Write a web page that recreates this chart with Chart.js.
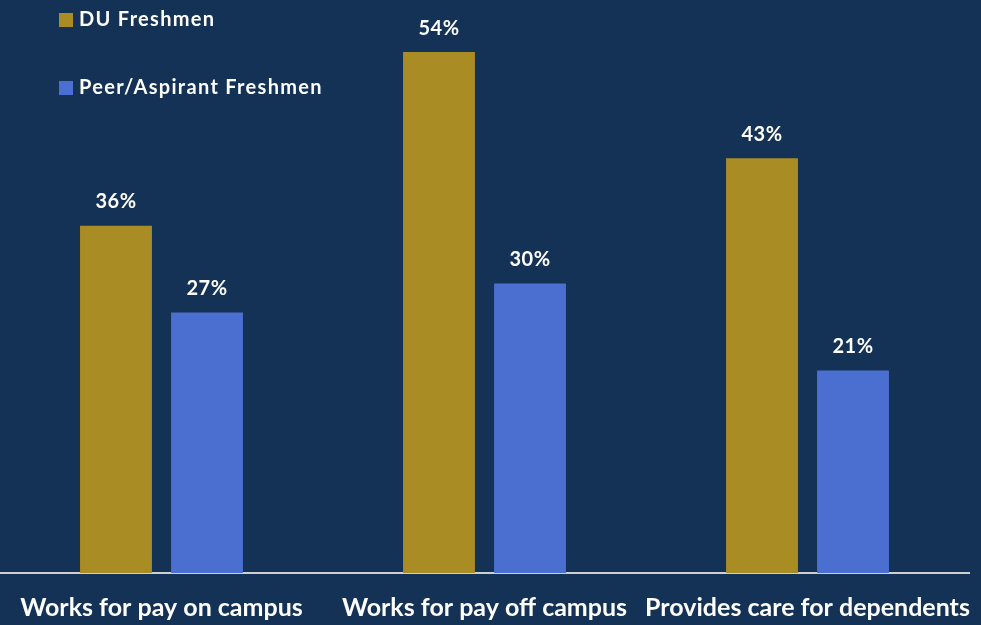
<!DOCTYPE html>
<html>
<head>
<meta charset="utf-8">
<script src="https://cdn.jsdelivr.net/npm/chart.js@4"></script>
<style>
  html, body { margin: 0; padding: 0; background: #143256; }
  #wrap { width: 981px; height: 625px; position: relative; }
</style>
</head>
<body>
<div id="wrap"><canvas id="workChart"></canvas></div>
<script>
const categories = ['Works for pay on campus', 'Works for pay off campus', 'Provides care for dependents'];
const duFreshmen = [36, 54, 43];
const peerFreshmen = [27, 30, 21];
const seriesNames = ['DU Freshmen', 'Peer/Aspirant Freshmen'];

const gold = '#AA8C25';
const blue = '#4A6FD0';
const fontFamily = 'Lato, "Open Sans", sans-serif';

// percent labels on top of each bar
const valueLabels = {
    id: 'valueLabels',
    afterDatasetsDraw(chart) {
        const ctx = chart.ctx;
        ctx.save();
        ctx.fillStyle = '#FFFFFF';
        ctx.font = 'bold 20px ' + fontFamily;
        ctx.letterSpacing = '0.5px';
        ctx.textAlign = 'center';
        ctx.textBaseline = 'middle';
        chart.data.datasets.forEach(function (ds, i) {
            chart.getDatasetMeta(i).data.forEach(function (bar, j) {
                ctx.fillText(ds.data[j] + '%', bar.x, bar.y - 24);
            });
        });
        ctx.restore();
    }
};

// stacked legend in the top-left corner
const cornerLegend = {
    id: 'cornerLegend',
    afterDraw(chart) {
        const ctx = chart.ctx;
        ctx.save();
        ctx.font = 'bold 20px ' + fontFamily;
        ctx.letterSpacing = '1.3px';
        ctx.textBaseline = 'middle';
        chart.data.datasets.forEach(function (ds, i) {
            const y = 20 + i * 68;
            ctx.fillStyle = ds.backgroundColor;
            ctx.fillRect(59, y - 7, 14, 14);
            ctx.fillStyle = '#FFFFFF';
            ctx.fillText(ds.label, 79, y);
        });
        ctx.restore();
    }
};

let workCtx = document.getElementById('workChart').getContext('2d');
let workChart = new Chart(workCtx, {
    type: 'bar',
    data: {
        labels: categories,
        datasets: [{
            label: seriesNames[0],
            data: duFreshmen,
            backgroundColor: gold
        }, {
            label: seriesNames[1],
            data: peerFreshmen,
            backgroundColor: blue
        }]
    },
    options: {
        responsive: true,
        maintainAspectRatio: false,
        animation: false,
        categoryPercentage: 0.5635,
        barPercentage: 0.79,
        layout: { padding: { left: 0, right: 12, top: 0, bottom: 0 } },
        plugins: {
            legend: { display: false },
            tooltip: { enabled: false }
        },
        scales: {
            x: {
                grid: { display: false },
                border: { display: true, color: '#D0D0D0', width: 2 },
                ticks: {
                    color: '#FFFFFF',
                    font: { family: fontFamily, size: 25, weight: 'bold', lineHeight: 1.0 },
                    padding: 14,
                    autoSkip: false,
                    maxRotation: 0
                },
                afterFit: function (scale) {
                    scale.height = 52;
                    scale.paddingLeft = 0;
                    scale.paddingRight = 0;
                }
            },
            y: {
                display: false,
                min: 0,
                max: 59.4
            }
        }
    },
    plugins: [valueLabels, cornerLegend]
});
</script>
</body>
</html>
